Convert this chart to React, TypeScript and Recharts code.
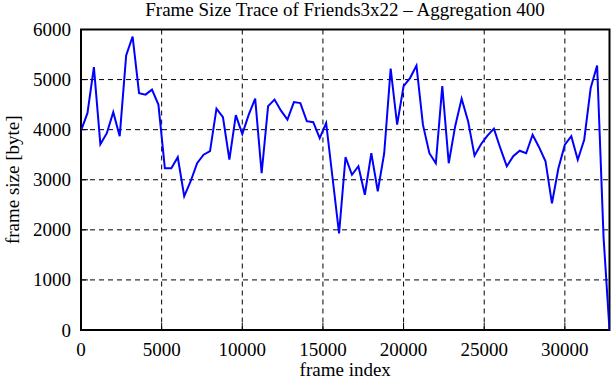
import { LineChart, Line, XAxis, YAxis, CartesianGrid, ReferenceArea } from 'recharts';

const frameIndex = [
  0, 400, 800, 1200, 1600, 2000, 2400, 2800, 3200, 3600,
  4000, 4400, 4800, 5200, 5600, 6000, 6400, 6800, 7200, 7600,
  8000, 8400, 8800, 9200, 9600, 10000, 10400, 10800, 11200, 11600,
  12000, 12400, 12800, 13200, 13600, 14000, 14400, 14800, 15200, 15600,
  16000, 16400, 16800, 17200, 17600, 18000, 18400, 18800, 19200, 19600,
  20000, 20400, 20800, 21200, 21600, 22000, 22400, 22800, 23200, 23600,
  24000, 24400, 24800, 25200, 25600, 26000, 26400, 26800, 27200, 27600,
  28000, 28400, 28800, 29200, 29600, 30000, 30400, 30800, 31200, 31600,
  32000, 32400, 32768,
];

const frameSize = [
  3980, 4330, 5250, 3710, 3930, 4350, 3870, 5480, 5860, 4730,
  4700, 4800, 4500, 3230, 3230, 3450, 2670, 2970, 3330, 3500,
  3570, 4420, 4250, 3400, 4290, 3910, 4300, 4620, 3130, 4470,
  4600, 4380, 4200, 4550, 4530, 4170, 4150, 3830, 4130, 3030,
  1930, 3450, 3100, 3270, 2700, 3530, 2770, 3530, 5220, 4100,
  4870, 5030, 5280, 4100, 3530, 3330, 4870, 3330, 4070, 4620,
  4170, 3480, 3710, 3880, 4020, 3630, 3270, 3470, 3580, 3530,
  3900, 3650, 3370, 2530, 3230, 3700, 3870, 3400, 3800, 4830,
  5280, 1850, 0,
];

const xTicks = [0, 5000, 10000, 15000, 20000, 25000, 30000];
const yTicks = [0, 1000, 2000, 3000, 4000, 5000, 6000];
const X_MAX = 32768;
const Y_MAX = 6000;

const FONT = '"Liberation Serif", "DejaVu Serif", serif';
const TICK_LEN = 7;

const data = frameIndex.map((f, i) => ({ frame: f, size: frameSize[i] }));

const BottomTick = ({ x, y, payload }: any) => (
  <g>
    <line x1={x} x2={x} y1={y} y2={y - TICK_LEN} stroke="#000" strokeWidth={1} />
    <text x={x} y={y + 26} textAnchor="middle" fontFamily={FONT} fontSize={19} fill="#000">
      {payload.value}
    </text>
  </g>
);

const TopTick = ({ x, y }: any) => (
  <line x1={x} x2={x} y1={y} y2={y + TICK_LEN} stroke="#000" strokeWidth={1} />
);

const LeftTick = ({ x, y, payload }: any) => (
  <g>
    <line x1={x} x2={x + TICK_LEN} y1={y} y2={y} stroke="#000" strokeWidth={1} />
    <text x={x - 10} y={y} textAnchor="end" dominantBaseline="central" fontFamily={FONT} fontSize={19} fill="#000">
      {payload.value}
    </text>
  </g>
);

const RightTick = ({ x, y }: any) => (
  <line x1={x} x2={x - TICK_LEN} y1={y} y2={y} stroke="#000" strokeWidth={1} />
);

const YLabel = ({ viewBox }: any) => {
  const cx = viewBox.x + 12;
  const cy = viewBox.y + viewBox.height / 2;
  return (
    <text
      x={cx}
      y={cy}
      transform={`rotate(-90 ${cx} ${cy})`}
      textAnchor="middle"
      dominantBaseline="central"
      fontFamily={FONT}
      fontSize={19}
      fill="#000"
    >
      frame size [byte]
    </text>
  );
};

export default function App() {
  return (
    <div style={{ position: 'absolute', left: 0, top: 0, width: 611, height: 380, background: '#fff' }}>
      <div
        style={{
          position: 'absolute',
          left: 81,
          top: 0,
          width: 528,
          textAlign: 'center',
          fontFamily: FONT,
          fontSize: 19,
          lineHeight: '19px',
          color: '#000',
          whiteSpace: 'nowrap',
        }}
      >
        Frame Size Trace of Friends3x22 – Aggregation 400
      </div>
      <LineChart
        width={611}
        height={380}
        data={data}
        margin={{ top: 29.5, right: 1.5, bottom: 0, left: 0 }}
      >
        <CartesianGrid stroke="#000" strokeWidth={1} strokeDasharray="5 4" />
        <XAxis
          dataKey="frame"
          type="number"
          domain={[0, X_MAX]}
          ticks={xTicks}
          height={50}
          axisLine={false}
          tickLine={false}
          tickSize={0}
          tickMargin={0}
          tick={<BottomTick />}
          interval={0}
          allowDataOverflow
          label={{ value: 'frame index', position: 'insideBottom', offset: 4, fontFamily: FONT, fontSize: 19, fill: '#000' }}
        />
        <XAxis
          xAxisId="top"
          orientation="top"
          dataKey="frame"
          type="number"
          domain={[0, X_MAX]}
          ticks={xTicks}
          height={0}
          axisLine={false}
          tickLine={false}
          tickSize={0}
          tickMargin={0}
          tick={<TopTick />}
          interval={0}
          allowDataOverflow
        />
        <YAxis
          type="number"
          domain={[0, Y_MAX]}
          ticks={yTicks}
          width={81}
          axisLine={false}
          tickLine={false}
          tickSize={0}
          tickMargin={0}
          tick={<LeftTick />}
          interval={0}
          allowDataOverflow
          label={<YLabel />}
        />
        <YAxis
          yAxisId="right"
          orientation="right"
          type="number"
          domain={[0, Y_MAX]}
          ticks={yTicks}
          width={0}
          axisLine={false}
          tickLine={false}
          tickSize={0}
          tickMargin={0}
          tick={<RightTick />}
          interval={0}
          allowDataOverflow
        />
        <Line
          type="linear"
          dataKey="size"
          stroke="#0000ff"
          strokeWidth={2}
          dot={false}
          isAnimationActive={false}
        />
        <ReferenceArea x1={0} x2={X_MAX} y1={0} y2={Y_MAX} fill="none" stroke="#000" strokeWidth={2} ifOverflow="visible" />
      </LineChart>
    </div>
  );
}
